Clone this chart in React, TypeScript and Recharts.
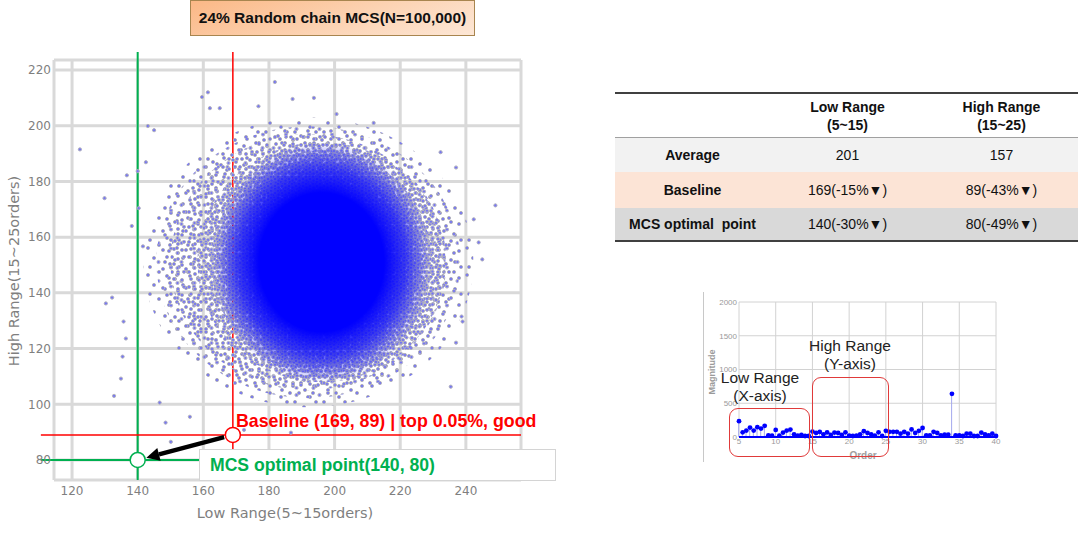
import React from 'react'
import {
  ScatterChart, Scatter, XAxis, YAxis, CartesianGrid, ReferenceLine, ReferenceDot,
  ComposedChart, Bar,
} from 'recharts'

// main scatter
const X_TICKS = [120, 140, 160, 180, 200, 220, 240]
const Y_TICKS = [80, 100, 120, 140, 160, 180, 200, 220]
const X_DOMAIN = [114.5, 256.8]
const Y_DOMAIN = [72.8, 223.6]

// the 100k cloud is drawn as density layers around its centre
const CLOUD_CENTER = [{ x: 192, y: 151 }]
const CORE_CENTER = [{ x: 196, y: 151 }]

const OUTLIER_X = [122.4, 129.9, 136.7, 138.2, 140.0, 140.3, 141.6, 142.5, 145.0, 143.1, 159.6, 161.4, 162.0, 165.0,
  181.8, 187.2, 193.7, 176.8, 200.6, 211.9, 232.3, 237.0, 249.0, 242.4, 243.9, 245.0, 130.3, 132.2, 132.8, 135.7,
  135.4, 134.9, 136.4, 146.7, 148.5, 150.1, 155.9, 172.4, 186.7, 235.4, 237.0, 238.7, 239.0]
const OUTLIER_Y = [191.5, 174.0, 182.2, 164.0, 183.7, 170.4, 156.7, 186.9, 198.4, 199.9, 210.3, 212.0, 206.3, 206.3,
  215.7, 209.6, 210.0, 207.0, 204.2, 201.0, 190.5, 185.0, 171.4, 166.4, 158.1, 152.0, 136.2, 138.3, 103.0, 129.7,
  117.1, 109.2, 123.6, 100.6, 93.4, 86.5, 95.5, 90.8, 89.8, 106.3, 122.1, 131.5, 129.7]

const BASELINE = { x: 169, y: 89 }
const OPTIMAL = { x: 140, y: 80 }
const LINE_TOP = 226.5
const LINE_LEFT = 110.5
const LINE_RIGHT = 256.8
const GREEN_RIGHT = 160

// table
const ROW_LABELS = ['Average', 'Baseline', 'MCS optimal  point']
const LOW_VALUES = ['201', '169(-15%\u25BC)', '140(-30%\u25BC)']
const HIGH_VALUES = ['157', '89(-43%\u25BC)', '80(-49%\u25BC)']
const ROW_BG = ['#f2f2f2', '#fce4d6', '#d9d9d9']

// inset stem plot
const ORDERS = [5, 5.5, 6, 6.5, 7, 7.5, 8, 8.5, 9, 9.5, 10, 10.5, 11, 11.5, 12, 12.5, 13, 13.5, 14, 14.5,
  15, 15.5, 16, 16.5, 17, 17.5, 18, 18.5, 19, 19.5, 20, 20.5, 21, 21.5, 22, 22.5, 23, 23.5, 24, 24.5,
  25, 25.5, 26, 26.5, 27, 27.5, 28, 28.5, 29, 29.5, 30, 30.5, 31, 31.5, 32, 32.5, 33, 33.5, 34, 34.5,
  35, 35.5, 36, 36.5, 37, 37.5, 38, 38.5, 39, 39.5, 40]
const MAGNITUDES = [235, 70, 95, 140, 95, 145, 125, 165, 25, 20, 105, 20, 65, 95, 110, 40, 20, 30, 15, 15,
  80, 60, 75, 40, 70, 30, 65, 60, 30, 70, 20, 15, 20, 40, 87, 60, 40, 20, 70, 15,
  92, 77, 77, 77, 50, 77, 50, 112, 60, 92, 133, 25, 25, 77, 60, 25, 35, 35, 640, 25,
  25, 15, 50, 50, 15, 15, 65, 40, 25, 50, 15]
const INSET_X_TICKS = [5, 10, 15, 20, 25, 30, 35, 40]
const INSET_Y_TICKS = [0, 500, 1000, 1500, 2000]

const outliers = OUTLIER_X.map((x, i) => ({ x, y: OUTLIER_Y[i] }))
const stems = ORDERS.map((order, i) => ({ order, mag: MAGNITUDES[i] }))

const DOT = { fill: '#7676f4', stroke: '#b0b0be', strokeWidth: 1 }

function Speckle({ id, w, h, pts }: { id: string; w: number; h: number; pts: number[][] }) {
  return (
    <pattern id={id} width={w} height={h} patternUnits="userSpaceOnUse">
      {pts.map((p, i) => <circle key={i} cx={p[0]} cy={p[1]} r={1.6} {...DOT} />)}
    </pattern>
  )
}

const layer = (rx: number, ry: number, fill: string, defs?: boolean) => (p: any) => (
  <g>
    {defs && (
      <defs>
        <Speckle id="spA" w={29} h={27} pts={[[3, 5], [14, 2], [24, 8], [9, 15], [20, 19], [26, 24], [5, 24]]} />
        <Speckle id="spB" w={23} h={19} pts={[[2, 3], [10, 1.5], [17, 6], [6, 10], [14, 13], [20.5, 15], [9, 17]]} />
        <Speckle id="spC" w={17} h={15} pts={[[2, 2], [8, 4], [14, 1.8], [4, 9], [12, 10], [7.5, 13]]} />
        <Speckle id="spD" w={13} h={11} pts={[[2, 1.8], [7, 3], [11, 1.8], [3.5, 7.5], [9, 8]]} />
        <Speckle id="spE" w={9} h={9} pts={[[1.8, 1.8], [6, 2.5], [3.5, 6], [7.5, 7]]} />
        <Speckle id="spF" w={7} h={7} pts={[[2, 4], [5, 1.8], [5.5, 5.5]]} />
        <radialGradient id="core">
          <stop offset="0%" stopColor="#0000ff" stopOpacity={1} />
          <stop offset="58%" stopColor="#0000ff" stopOpacity={1} />
          <stop offset="78%" stopColor="#0000ff" stopOpacity={0.65} />
          <stop offset="100%" stopColor="#0000ff" stopOpacity={0} />
        </radialGradient>
      </defs>
    )}
    <ellipse cx={p.cx} cy={p.cy} rx={rx} ry={ry} fill={fill} />
  </g>
)

const Arrow = (p: any) => {
  const { x1, y1, x2, y2 } = p
  const dx = x2 - x1
  const dy = y2 - y1
  const len = Math.hypot(dx, dy)
  const ux = dx / len
  const uy = dy / len
  const sx = x1 + ux * 9
  const sy = y1 + uy * 9
  const tx = x2 - ux * 9
  const ty = y2 - uy * 9
  const bx = tx - ux * 13
  const by = ty - uy * 13
  const nx = -uy
  const ny = ux
  return (
    <g>
      <line x1={sx} y1={sy} x2={bx} y2={by} stroke="#000" strokeWidth={4.5} />
      <polygon points={`${tx},${ty} ${bx + nx * 6.5},${by + ny * 6.5} ${bx - nx * 6.5},${by - ny * 6.5}`} fill="#000" />
    </g>
  )
}

const axisTick = { fill: '#7f7f7f', fontSize: 12, fontFamily: 'DejaVu Sans' }
const insetTick = { fill: '#9a9a9a', fontSize: 8, fontFamily: 'Liberation Sans' }

function MainChart() {
  return (
    <ScatterChart width={540} height={538} margin={{ top: 60, right: 19, bottom: 28, left: 18 }}>
      <CartesianGrid stroke="#d9d9d9" strokeWidth={3} />
      <XAxis type="number" dataKey="x" domain={X_DOMAIN} ticks={X_TICKS} allowDataOverflow
        axisLine={false} tickLine={false} tickSize={0} tickMargin={6} height={30} tick={axisTick} />
      <YAxis type="number" dataKey="y" domain={Y_DOMAIN} ticks={Y_TICKS} allowDataOverflow
        axisLine={false} tickLine={false} tickSize={0} tickMargin={3} width={36} tick={axisTick} />
      <Scatter data={CLOUD_CENTER} shape={layer(165, 145, 'url(#spA)', true)} isAnimationActive={false} />
      <Scatter data={CLOUD_CENTER} shape={layer(152, 136, 'url(#spB)')} isAnimationActive={false} />
      <Scatter data={CLOUD_CENTER} shape={layer(138, 128, 'url(#spC)')} isAnimationActive={false} />
      <Scatter data={CORE_CENTER} shape={layer(124, 120, 'url(#spD)')} isAnimationActive={false} />
      <Scatter data={CORE_CENTER} shape={layer(110, 112, 'url(#spE)')} isAnimationActive={false} />
      <Scatter data={CORE_CENTER} shape={layer(98, 104, 'url(#spF)')} isAnimationActive={false} />
      <Scatter data={CORE_CENTER} shape={layer(108, 120, 'url(#core)')} isAnimationActive={false} />
      <Scatter data={outliers} isAnimationActive={false}
        shape={(p: any) => <circle cx={p.cx} cy={p.cy} r={1.6} {...DOT} />} />
      <ReferenceLine ifOverflow="visible" stroke="#00b050" strokeWidth={2}
        segment={[{ x: OPTIMAL.x, y: LINE_TOP }, { x: OPTIMAL.x, y: Y_DOMAIN[0] }]} />
      <ReferenceLine ifOverflow="visible" stroke="#00b050" strokeWidth={2}
        segment={[{ x: LINE_LEFT, y: OPTIMAL.y }, { x: GREEN_RIGHT, y: OPTIMAL.y }]} />
      <ReferenceLine ifOverflow="visible" stroke="#ff0000" strokeWidth={1.5}
        segment={[{ x: BASELINE.x, y: LINE_TOP }, { x: BASELINE.x, y: Y_DOMAIN[0] }]} />
      <ReferenceLine ifOverflow="visible" stroke="#ff0000" strokeWidth={1.5}
        segment={[{ x: LINE_LEFT, y: BASELINE.y }, { x: LINE_RIGHT, y: BASELINE.y }]} />
      <ReferenceLine ifOverflow="visible" shape={Arrow}
        segment={[{ x: BASELINE.x, y: BASELINE.y }, { x: OPTIMAL.x, y: OPTIMAL.y }]} />
      <ReferenceDot ifOverflow="visible" x={BASELINE.x} y={BASELINE.y} r={7.5} fill="#fff" stroke="#ff0000" strokeWidth={1.5} />
      <ReferenceDot ifOverflow="visible" x={OPTIMAL.x} y={OPTIMAL.y} r={7.5} fill="#fff" stroke="#00b050" strokeWidth={1.5} />
    </ScatterChart>
  )
}

function InsetChart() {
  return (
    <ComposedChart width={310} height={180} data={stems} margin={{ top: 12, right: 14, bottom: 21, left: 9 }}>
      <CartesianGrid stroke="#d2d2d2" />
      <XAxis type="number" dataKey="order" domain={[5, 40]} ticks={INSET_X_TICKS} axisLine={false}
        tickLine={false} tickSize={0} tickMargin={1} height={12} tick={insetTick} />
      <YAxis type="number" domain={[0, 2000]} ticks={INSET_Y_TICKS} axisLine={false}
        tickLine={false} tickSize={0} tickMargin={2} width={30} tick={insetTick} />
      <ReferenceLine y={0} stroke="#0000ff" strokeWidth={2} />
      <Bar dataKey="mag" barSize={1} fill="#a4a8ee" isAnimationActive={false} />
      <Scatter dataKey="mag" fill="#0000ff" isAnimationActive={false}
        shape={(p: any) => <circle cx={p.cx} cy={p.cy} r={2.4} fill="#0000ff" />} />
    </ComposedChart>
  )
}

const abs = (left: number, top: number, extra: React.CSSProperties = {}): React.CSSProperties => ({
  position: 'absolute', left, top, ...extra,
})

export default function App() {
  const cell: React.CSSProperties = { display: 'flex', alignItems: 'center', justifyContent: 'center', textAlign: 'center' }
  return (
    <div style={{ position: 'absolute', left: 0, top: 0, width: 1080, height: 538, background: '#fff', overflow: 'hidden', fontFamily: 'Liberation Sans, Arial, sans-serif' }}>
      <div style={abs(0, 0)}><MainChart /></div>

      <div style={abs(190, 0, {
        width: 285, height: 36, boxSizing: 'border-box', border: '1.5px solid #a8854f',
        background: 'linear-gradient(160deg, #fbb886 0%, #fcd3b3 55%, #fde7d6 100%)',
        display: 'flex', alignItems: 'center', justifyContent: 'center',
        fontWeight: 700, fontSize: 15.5, color: '#111',
      })}>24% Random chain MCS(N=100,000)</div>

      <div style={abs(236, 410, { color: '#ff0000', fontWeight: 700, fontSize: 17.8, whiteSpace: 'nowrap', lineHeight: '22px' })}>
        Baseline (169, 89) | top 0.05%, good
      </div>
      <div style={abs(199, 449, {
        width: 357, height: 32, boxSizing: 'border-box', background: '#fff', border: '1px solid #d4d4d4',
        color: '#00b050', fontWeight: 700, fontSize: 17.6, lineHeight: '30px', paddingLeft: 10, whiteSpace: 'nowrap',
      })}>MCS optimal point(140, 80)</div>

      <div style={abs(285, 513, { transform: 'translate(-50%, -50%)', color: '#7f7f7f', fontSize: 14.5, fontFamily: 'DejaVu Sans', whiteSpace: 'nowrap' })}>
        Low Range(5~15orders)
      </div>
      <div style={abs(14, 271, { transform: 'translate(-50%, -50%) rotate(-90deg)', color: '#7f7f7f', fontSize: 14.5, fontFamily: 'DejaVu Sans', whiteSpace: 'nowrap' })}>
        High Range(15~25orders)
      </div>

      {/* table */}
      <div style={abs(615, 92, { width: 463, fontSize: 14, color: '#111' })}>
        <div style={{ height: 46, borderTop: '2px solid #404040', borderBottom: '1px solid #a0a0a0', boxSizing: 'border-box', display: 'flex', fontWeight: 700, lineHeight: '18px' }}>
          <div style={{ ...cell, width: 155 }} />
          <div style={{ ...cell, width: 155 }}>Low Range<br />(5~15)</div>
          <div style={{ ...cell, width: 153 }}>High Range<br />(15~25)</div>
        </div>
        {ROW_LABELS.map((label, i) => (
          <div key={label} style={{ height: i === 1 ? 36 : 34, background: ROW_BG[i], display: 'flex', boxSizing: 'border-box', borderBottom: i === 2 ? '2px solid #404040' : undefined }}>
            <div style={{ ...cell, width: 155, fontWeight: 700, whiteSpace: 'pre' }}>{label}</div>
            <div style={{ ...cell, width: 155 }}>{LOW_VALUES[i]}</div>
            <div style={{ ...cell, width: 153 }}>{HIGH_VALUES[i]}</div>
          </div>
        ))}
      </div>

      {/* inset */}
      <div style={abs(703, 292, { width: 0, height: 170, borderLeft: '1px solid #c8c8c8' })} />
      <div style={abs(700, 290)}><InsetChart /></div>
      <div style={abs(712, 372, { transform: 'translate(-50%, -50%) rotate(-90deg)', color: '#9a9a9a', fontSize: 9, fontWeight: 700, whiteSpace: 'nowrap' })}>Magnitude</div>
      <div style={abs(863, 455, { transform: 'translate(-50%, -50%)', color: '#a0a0a0', fontSize: 10, fontWeight: 700 })}>Order</div>
      <div style={abs(729, 408, { width: 81, height: 49, boxSizing: 'border-box', border: '1.5px solid #e03a3a', borderRadius: 9 })} />
      <div style={abs(812, 377, { width: 77, height: 80, boxSizing: 'border-box', border: '1.5px solid #e03a3a', borderRadius: 9 })} />
      <div style={abs(760, 387, { transform: 'translate(-50%, -50%)', textAlign: 'center', fontSize: 15.5, lineHeight: '18px', color: '#222', whiteSpace: 'nowrap' })}>
        Low Range<br />(X-axis)
      </div>
      <div style={abs(850, 355, { transform: 'translate(-50%, -50%)', textAlign: 'center', fontSize: 15.5, lineHeight: '18px', color: '#222', whiteSpace: 'nowrap' })}>
        High Range<br />(Y-axis)
      </div>
    </div>
  )
}
